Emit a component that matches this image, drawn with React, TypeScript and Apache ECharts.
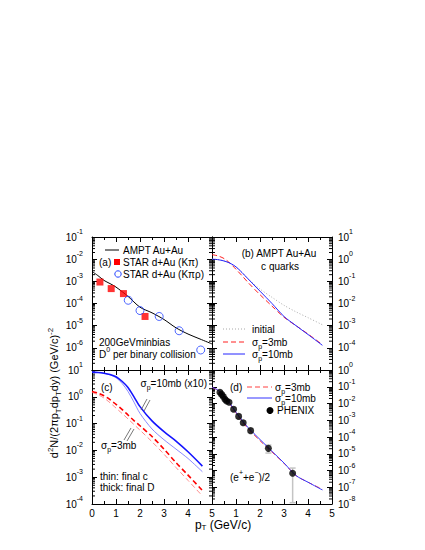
import React, { useEffect, useRef } from 'react';
import * as echarts from 'echarts';

const FONT = '"Liberation Sans", Arial, Helvetica, sans-serif';

// ---------- Panel (a): D0 spectra ----------
const amptPt = [0, 0.25, 0.5, 0.75, 1, 1.5, 2, 2.5, 3, 3.5, 4, 4.5, 5];
const amptVal = [2.8e-3, 1.8e-3, 1.1e-3, 7.9e-4, 5.5e-4, 2.1e-4, 6.8e-5, 3.8e-5, 1.9e-5, 8e-6, 4.2e-6, 2.5e-6, 1.5e-6];
const starKpiPt = [0.33, 0.8, 1.31, 2.21];
const starKpiVal = [9.3e-4, 4.7e-4, 2.8e-4, 2.6e-5];
const starKpirhoPt = [1.51, 2.0, 2.8, 3.63, 4.53];
const starKpirhoVal = [1.4e-4, 4.8e-5, 2.6e-5, 5.9e-6, 8e-7];

// ---------- Panel (b): c quarks ----------
const bPt = [0, 0.25, 0.5, 0.75, 1, 1.25, 1.5, 2, 2.5, 3, 3.5, 4, 4.6];
const bInitial = [1.0, 0.95, 0.83, 0.66, 0.44, 0.25, 0.13, 0.045, 0.019, 8.3e-3, 4.2e-3, 2.3e-3, 1.1e-3];
const b10mb = [1.0, 0.95, 0.83, 0.66, 0.45, 0.25, 0.13, 0.036, 0.01, 2.6e-3, 1e-3, 4e-4, 1.3e-4];
const b3mb = [1.6, 1.4, 1.07, 0.66, 0.35, 0.18, 0.089, 0.025, 7.6e-3, 2.4e-3, 1e-3, 4.2e-4, 1.4e-4];

// ---------- Panel (c): final c vs final D ----------
const cPt = [0, 0.25, 0.5, 0.75, 1, 1.25, 1.5, 1.75, 2, 2.5, 3, 3.5, 4, 4.6];
const cThick10mb = [8.3, 8.1, 7.6, 6.8, 5.6, 3.8, 2.24, 1.0, 0.43, 0.126, 0.05, 0.0224, 8.9e-3, 2.6e-3];
const cThin10mb = [8.3, 8.1, 7.6, 6.6, 5.2, 3.2, 1.58, 0.63, 0.24, 0.063, 0.025, 0.0112, 5e-3, 1.6e-3];
const cThick3mb = [1.58, 1.38, 1.1, 0.79, 0.52, 0.34, 0.21, 0.13, 0.083, 0.033, 0.0112, 3.5e-3, 1.2e-3, 3.2e-4];
const cThin3mb = [1.45, 1.2, 0.9, 0.6, 0.38, 0.24, 0.15, 0.092, 0.057, 0.021, 7.2e-3, 2.3e-3, 7.6e-4, 2.0e-4];

// ---------- Panel (d): electrons ----------
const dPt = [0, 0.25, 0.5, 0.75, 1, 1.25, 1.5, 2, 2.5, 3, 3.5, 4, 4.6];
const d10mb = [9.3e-2, 6.3e-2, 2.8e-2, 1e-2, 3e-3, 1e-3, 3.7e-4, 7.1e-5, 1.4e-5, 2.8e-6, 5e-7, 2e-7, 6.9e-8];
const d3mb = [9.3e-2, 6e-2, 2.6e-2, 9.1e-3, 2.75e-3, 8.9e-4, 3.2e-4, 6e-5, 1.26e-5, 2.7e-6, 5e-7, 2e-7, 7.6e-8];
const phenixPt = [0.33, 0.40, 0.47, 0.54, 0.61, 0.71, 0.90, 1.11, 1.30, 1.61, 2.35, 3.36];
const phenixVal = [4.7e-2, 3.5e-2, 2.6e-2, 1.8e-2, 1.4e-2, 1.2e-2, 4.5e-3, 1.7e-3, 7.1e-4, 2.4e-4, 2.1e-5, 6.8e-7];
const phenixLow = [3.7e-2, 2.8e-2, 2.1e-2, 1.45e-2, 1.1e-2, 9.5e-3, 3.5e-3, 1.3e-3, 5.4e-4, 1.8e-4, 1.1e-5, 1.2e-8];
const phenixHigh = [5.9e-2, 4.4e-2, 3.3e-2, 2.3e-2, 1.8e-2, 1.5e-2, 5.8e-3, 2.2e-3, 9.3e-4, 3.2e-4, 3.3e-5, 1.4e-6];

// axis ranges (decade exponents) per panel a, b, c, d
const yExp = [[-7, -1], [-5, 1], [-4, 1], [-8, 0]];
const xTickLabels = ['0', '1', '2', '3', '4', '5'];

const PANELS = [
  { left: 92, top: 237, width: 120, height: 133 },
  { left: 212, top: 237, width: 120, height: 133 },
  { left: 92, top: 370, width: 120, height: 134 },
  { left: 212, top: 370, width: 120, height: 134 },
];

const pairs = (xs: number[], ys: number[]) => xs.map((x, i) => [x, ys[i]]);

const richFor = (size: number, lh: number) => ({
  n: { fontSize: size, fontFamily: FONT, color: '#000', lineHeight: lh, verticalAlign: 'middle' },
  sup: { fontSize: Math.round(size * 0.7), fontFamily: FONT, color: '#000', lineHeight: lh, verticalAlign: 'top' },
  sub: { fontSize: Math.round(size * 0.7), fontFamily: FONT, color: '#000', lineHeight: lh, verticalAlign: 'bottom' },
});

const AXIS_RICH = {
  b: { fontSize: 10, fontFamily: FONT, color: '#000', lineHeight: 18, verticalAlign: 'middle' },
  s: { fontSize: 7, fontFamily: FONT, color: '#000', lineHeight: 18, verticalAlign: 'top' },
};

function buildOption() {
  const black = { color: '#000', width: 1 };
  const xAxis: any[] = [];
  const yAxis: any[] = [];
  PANELS.forEach((_, i) => {
    ['bottom', 'top'].forEach((pos) => {
      const showLab = pos === 'bottom' && i >= 2;
      xAxis.push({
        gridIndex: i, type: 'value', min: 0, max: 5, interval: 1, position: pos,
        axisLine: { show: true, onZero: false, lineStyle: black },
        axisTick: { show: true, inside: true, length: 5, lineStyle: black },
        minorTick: { show: true, splitNumber: 2, length: 3, lineStyle: black },
        splitLine: { show: false }, minorSplitLine: { show: false },
        axisLabel: {
          show: showLab, margin: 4, fontSize: 10, lineHeight: 10, fontFamily: FONT, color: '#000',
          formatter: (v: number) => (i === 3 && v === 0 ? '' : xTickLabels[Math.round(v)]),
        },
      });
    });
    ['left', 'right'].forEach((pos) => {
      const [lo, hi] = yExp[i];
      const showLab = (pos === 'left' && (i === 0 || i === 2)) || (pos === 'right' && (i === 1 || i === 3));
      yAxis.push({
        gridIndex: i, type: 'log', logBase: 10, min: Math.pow(10, lo), max: Math.pow(10, hi),
        splitNumber: hi - lo, position: pos,
        axisLine: { show: true, onZero: false, lineStyle: black },
        axisTick: { show: true, inside: true, length: 5, lineStyle: black },
        splitLine: { show: false },
        axisLabel: {
          show: showLab, margin: pos === 'left' ? 9 : 6,
          formatter: (v: number) => {
            const e = Math.round(Math.log10(v));
            if ((i === 0 && e === -7) || (i === 1 && e === -5)) return '';
            return `{b|10}{s|${e}}`;
          },
          rich: AXIS_RICH,
        },
      });
    });
  });

  const line = (gi: number, name: string, xs: number[], ys: number[], color: string, width: number, type: any) => ({
    type: 'line', name, xAxisIndex: gi * 2, yAxisIndex: gi * 2, data: pairs(xs, ys),
    symbol: 'none', showSymbol: false, smooth: 0.3, silent: true, z: 3,
    lineStyle: { color, width, type },
  });

  const minorData = (gi: number) => {
    const [lo, hi] = yExp[gi];
    const out: number[][] = [];
    for (let e = lo; e < hi; e++) for (let m = 2; m <= 9; m++) out.push([0, m * Math.pow(10, e)]);
    return out;
  };
  const minorSeries = PANELS.map((_, gi) => ({
    type: 'custom', xAxisIndex: gi * 2, yAxisIndex: gi * 2, silent: true, clip: false, z: 1,
    encode: { x: 0, y: 1 },
    data: minorData(gi),
    renderItem: (params: any, api: any) => {
      const v = api.value(1);
      const l = api.coord([0, v]);
      const r = api.coord([5, v]);
      return {
        type: 'group', children: [
          { type: 'line', shape: { x1: l[0], y1: l[1], x2: l[0] + 3, y2: l[1] }, style: { stroke: '#000', lineWidth: 1 } },
          { type: 'line', shape: { x1: r[0] - 3, y1: r[1], x2: r[0], y2: r[1] }, style: { stroke: '#000', lineWidth: 1 } },
        ],
      };
    },
  }));

  const errSeries = {
    type: 'custom', xAxisIndex: 6, yAxisIndex: 6, silent: true, z: 2,
    encode: { x: 0, y: [1, 2] },
    data: phenixPt.map((x, i) => [x, phenixLow[i], phenixHigh[i]]),
    renderItem: (params: any, api: any) => {
      const x = api.value(0);
      const a = api.coord([x, api.value(1)]);
      const b = api.coord([x, api.value(2)]);
      const st = { stroke: '#c4c4c4', lineWidth: 1.5 };
      return {
        type: 'group', children: [
          { type: 'line', shape: { x1: a[0], y1: a[1], x2: b[0], y2: b[1] }, style: st },
          { type: 'line', shape: { x1: a[0] - 3, y1: a[1], x2: a[0] + 3, y2: a[1] }, style: st },
          { type: 'line', shape: { x1: b[0] - 3, y1: b[1], x2: b[0] + 3, y2: b[1] }, style: st },
        ],
      };
    },
  };

  const series: any[] = [
    ...minorSeries,
    line(0, 'AMPT Au+Au', amptPt, amptVal, '#000', 1, 'solid'),
    {
      type: 'scatter', name: 'STAR d+Au (Kπ)', xAxisIndex: 0, yAxisIndex: 0, data: pairs(starKpiPt, starKpiVal),
      symbol: 'rect', symbolSize: 7, itemStyle: { color: '#ff0000' }, z: 4, silent: true,
    },
    {
      type: 'scatter', name: 'STAR d+Au (Kπρ)', xAxisIndex: 0, yAxisIndex: 0, data: pairs(starKpirhoPt, starKpirhoVal),
      symbol: 'circle', symbolSize: 8, itemStyle: { color: 'rgba(255,255,255,0)', borderColor: '#2040ff', borderWidth: 1 }, z: 4, silent: true,
    },
    line(1, 'initial', bPt, bInitial, '#a8a8a8', 1, [1, 2]),
    line(1, 'σp=3mb', bPt, b3mb, '#ff2020', 1, [5, 3]),
    line(1, 'σp=10mb', bPt, b10mb, '#2525ff', 1, 'solid'),
    line(2, 'thin 3mb', cPt, cThin3mb, '#ff8c8c', 1, [5, 3]),
    line(2, 'thick 3mb', cPt, cThick3mb, '#ff0000', 1.6, [5, 3]),
    line(2, 'thin 10mb', cPt, cThin10mb, '#8a8aff', 1, 'solid'),
    line(2, 'thick 10mb', cPt, cThick10mb, '#1414ff', 1.6, 'solid'),
    line(3, 'σp=3mb', dPt, d3mb, '#ff4040', 1, [5, 3]),
    line(3, 'σp=10mb', dPt, d10mb, '#3535ff', 1, 'solid'),
    errSeries,
    {
      type: 'scatter', name: 'PHENIX', xAxisIndex: 6, yAxisIndex: 6, data: pairs(phenixPt, phenixVal),
      symbol: 'circle', symbolSize: 7, itemStyle: { color: '#000' }, z: 5, silent: true,
    },
  ];

  const R10 = richFor(10, 16);
  const RX = richFor(12, 12);
  const RY = richFor(11, 16);
  const txt = (x: number, y: number, text: string, align = 'left', rich: any = R10, extra: any = {}) => ({
    type: 'text', x, y, silent: true, z: 10,
    style: { text, align, verticalAlign: 'middle', fontSize: 10, fontFamily: FONT, fill: '#000', rich },
    ...extra,
  });
  const seg = (x1: number, y1: number, x2: number, y2: number, stroke: string, lineWidth = 1, lineDash: any = null) => ({
    type: 'line', silent: true, z: 10,
    shape: { x1, y1, x2, y2 },
    style: { stroke, lineWidth, lineDash },
  });

  const graphic: any[] = [
    // panel a legend & notes
    seg(105, 250, 119, 250, '#000'),
    txt(123, 250, '{n|AMPT Au+Au}'),
    txt(99, 262, '{n|(a)}'),
    { type: 'rect', silent: true, z: 10, shape: { x: 114, y: 259, width: 6, height: 6 }, style: { fill: '#ff0000' } },
    txt(123, 262, '{n|STAR d+Au (Kπ)}'),
    { type: 'circle', silent: true, z: 10, shape: { cx: 118, cy: 274, r: 3.2 }, style: { fill: 'none', stroke: '#2040ff', lineWidth: 1 } },
    txt(123, 274, '{n|STAR d+Au (Kπρ)}'),
    txt(99, 342, '{n|200GeVminbias}'),
    txt(99, 354, '{n|D}{sup|0}{n| per binary collision}'),
    // panel b
    txt(279, 253, '{n|(b) AMPT Au+Au}', 'center'),
    txt(280, 266, '{n|c quarks}', 'center'),
    seg(223, 329, 245, 329, '#a8a8a8', 1, [1, 2]),
    txt(252, 329, '{n|initial}'),
    seg(223, 342, 245, 342, '#ff2020', 1, [5, 3]),
    txt(252, 342, '{n|σ}{sub|p}{n|=3mb}'),
    seg(223, 354, 245, 354, '#2525ff', 1),
    txt(252, 354, '{n|σ}{sub|p}{n|=10mb}'),
    // panel c
    txt(101, 387, '{n|(c)}'),
    txt(207, 383, '{n|σ}{sub|p}{n|=10mb (x10)}', 'right'),
    txt(101, 445, '{n|σ}{sub|p}{n|=3mb}'),
    seg(141, 410, 147, 399, '#555', 0.8),
    seg(144, 411, 150, 400, '#555', 0.8),
    seg(124, 440, 131, 428, '#555', 0.8),
    seg(127, 441, 134, 429, '#555', 0.8),
    txt(100, 476, '{n|thin: final c}'),
    txt(100, 487, '{n|thick: final D}'),
    // panel d
    txt(230, 387, '{n|(d)}'),
    seg(247, 387, 272, 387, '#ff4040', 1, [5, 3]),
    txt(275, 387, '{n|σ}{sub|p}{n|=3mb}'),
    seg(247, 398, 272, 398, '#3535ff', 1),
    txt(275, 398, '{n|σ}{sub|p}{n|=10mb}'),
    { type: 'circle', silent: true, z: 10, shape: { cx: 270, cy: 410.5, r: 3.5 }, style: { fill: '#000' } },
    txt(277, 410, '{n|PHENIX}'),
    txt(230, 477, '{n|(e}{sup|+}{n|+e}{sup|−}{n|)/2}'),
    // axis titles
    txt(223, 525, '{n|p}{sub|T}{n| (GeV/c)}', 'center', RX),
    {
      type: 'text', x: 54, y: 393, rotation: Math.PI / 2, silent: true, z: 10,
      style: {
        text: '{n|d}{sup|2}{n|N/(2πp}{sub|T}{n|dp}{sub|T}{n|dy) (GeV/c)}{sup|-2}',
        align: 'center', verticalAlign: 'middle', fontSize: 11, fontFamily: FONT, fill: '#000', rich: RY,
      },
    },
  ];

  return {
    animation: false,
    backgroundColor: '#fff',
    grid: PANELS.map((p) => ({ ...p, containLabel: false })),
    xAxis, yAxis, series, graphic,
  };
}

export default function App() {
  const ref = useRef<HTMLDivElement>(null);
  useEffect(() => {
    const chart = echarts.init(ref.current as HTMLDivElement, null, { renderer: 'svg' });
    chart.setOption(buildOption() as any);
    return () => chart.dispose();
  }, []);
  return (
    <div
      ref={ref}
      style={{ position: 'absolute', left: 0, top: 0, width: 425, height: 550, background: '#fff' }}
    />
  );
}
